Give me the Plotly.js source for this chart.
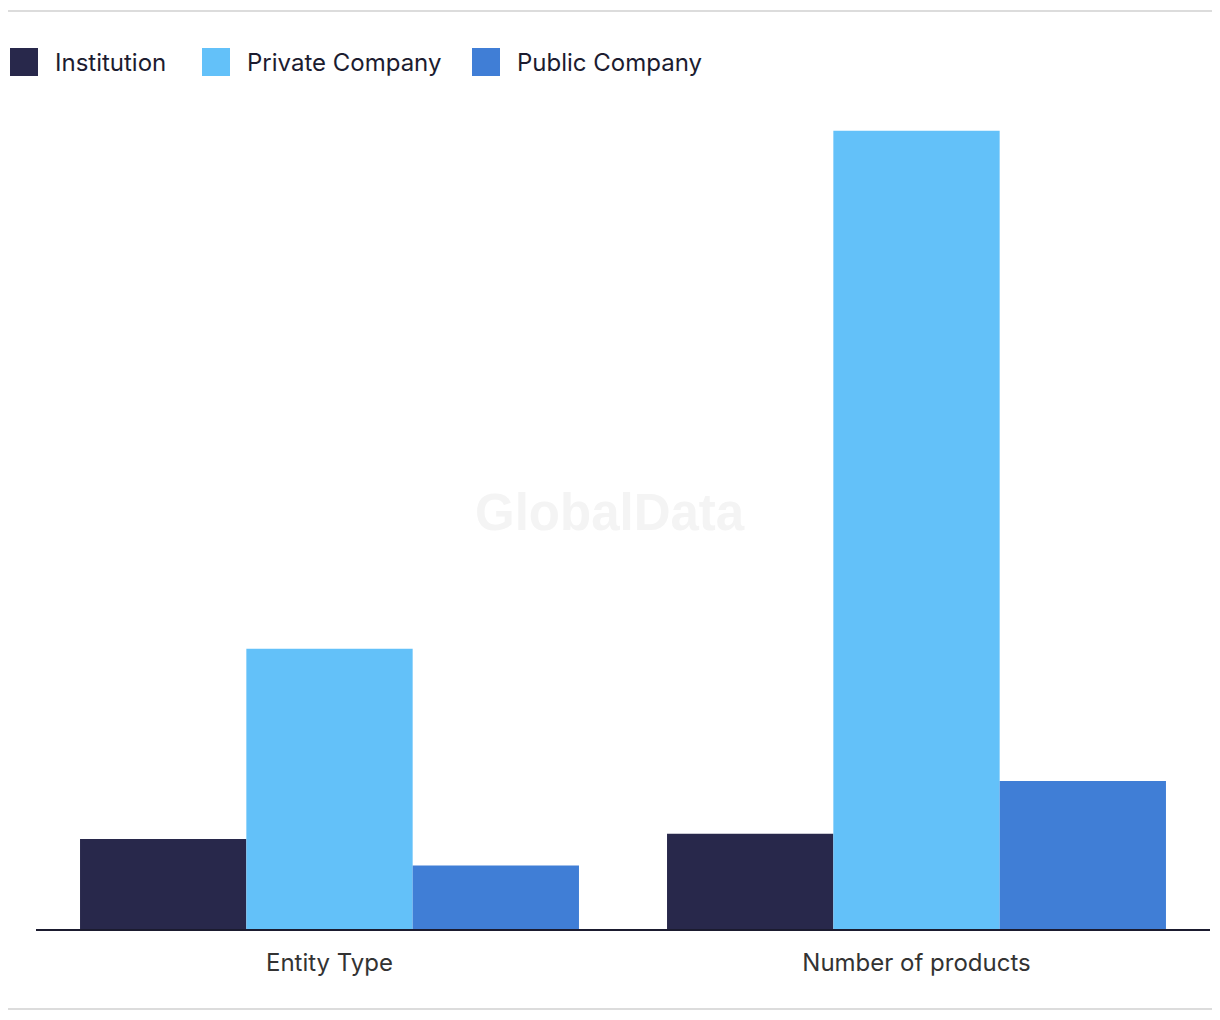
<!DOCTYPE html>
<html>
<head>
<meta charset="utf-8">
<script src="https://cdn.plot.ly/plotly-3.0.1.min.js"></script>
<style>
html,body{margin:0;padding:0;background:#fff;}
#chart{width:1220px;height:1020px;}
</style>
</head>
<body>
<div id="chart"></div>
<script>
// ---- data ----
var categories = ["Entity Type", "Number of products"];
var seriesNames = ["Institution", "Private Company", "Public Company"];
var institution = [17, 18];
var privateCompany = [53, 151];
var publicCompany = [12, 28];
var seriesColors = ["#28284b", "#63c1f9", "#407ed6"];

var seriesValues = [institution, privateCompany, publicCompany];

var W = 1220, H = 1020;
var M = {l: 36, r: 10, t: 100, b: 91};
var PW = W - M.l - M.r, PH = H - M.t - M.b;
function px(x){ return (x - M.l) / PW; }
function py(y){ return (H - M.b - y) / PH; }

var FONT = "Inter, 'Noto Sans', Arial, sans-serif";

var traces = seriesNames.map(function(name, i){
  return {
    type: "bar",
    name: name,
    x: categories,
    y: seriesValues[i],
    marker: {color: seriesColors[i], line: {width: 0}},
    showlegend: false,
    hoverinfo: "x+y+name"
  };
});

// custom legend (large square swatches)
var legendSwatchX = [10, 202, 472];
var shapes = [
  {type: "line", xref: "paper", yref: "paper", x0: px(8), x1: px(1212), y0: py(11), y1: py(11),
   line: {color: "#dcdcdc", width: 2}},
  {type: "line", xref: "paper", yref: "paper", x0: px(8), x1: px(1212), y0: py(1009), y1: py(1009),
   line: {color: "#dcdcdc", width: 2}}
];
var annotations = [
  {text: "GlobalData", xref: "paper", yref: "paper", x: px(610), y: py(512), showarrow: false,
   font: {family: "'Liberation Sans', Arial, sans-serif", size: 51, color: "#f4f4f4", weight: "bold"},
   xanchor: "center", yanchor: "middle"}
];
seriesNames.forEach(function(name, i){
  var sx = legendSwatchX[i];
  shapes.push({type: "rect", xref: "paper", yref: "paper",
    x0: px(sx), x1: px(sx + 28), y0: py(48), y1: py(76),
    fillcolor: seriesColors[i], line: {width: 0}});
  annotations.push({text: name, xref: "paper", yref: "paper",
    x: px(sx + 43), y: py(62), xanchor: "left", yanchor: "middle", showarrow: false,
    font: {family: FONT, size: 24, color: "#1c1c30"}});
});

var layout = {
  width: W, height: H,
  margin: M,
  paper_bgcolor: "#ffffff",
  plot_bgcolor: "#ffffff",
  barmode: "group",
  bargap: 0.15,
  bargroupgap: 0,
  showlegend: false,
  font: {family: FONT},
  xaxis: {
    type: "category",
    showline: true, linecolor: "#1b1b2f", linewidth: 2,
    ticks: "", showgrid: false, zeroline: false,
    ticklabelstandoff: 11,
    tickfont: {family: FONT, size: 24, color: "#333333"}
  },
  yaxis: {
    range: [0, 156.8],
    showticklabels: false, showgrid: false, zeroline: false, showline: false, ticks: ""
  },
  shapes: shapes,
  annotations: annotations
};

Plotly.newPlot("chart", traces, layout, {displayModeBar: false, staticPlot: false});
</script>
</body>
</html>
